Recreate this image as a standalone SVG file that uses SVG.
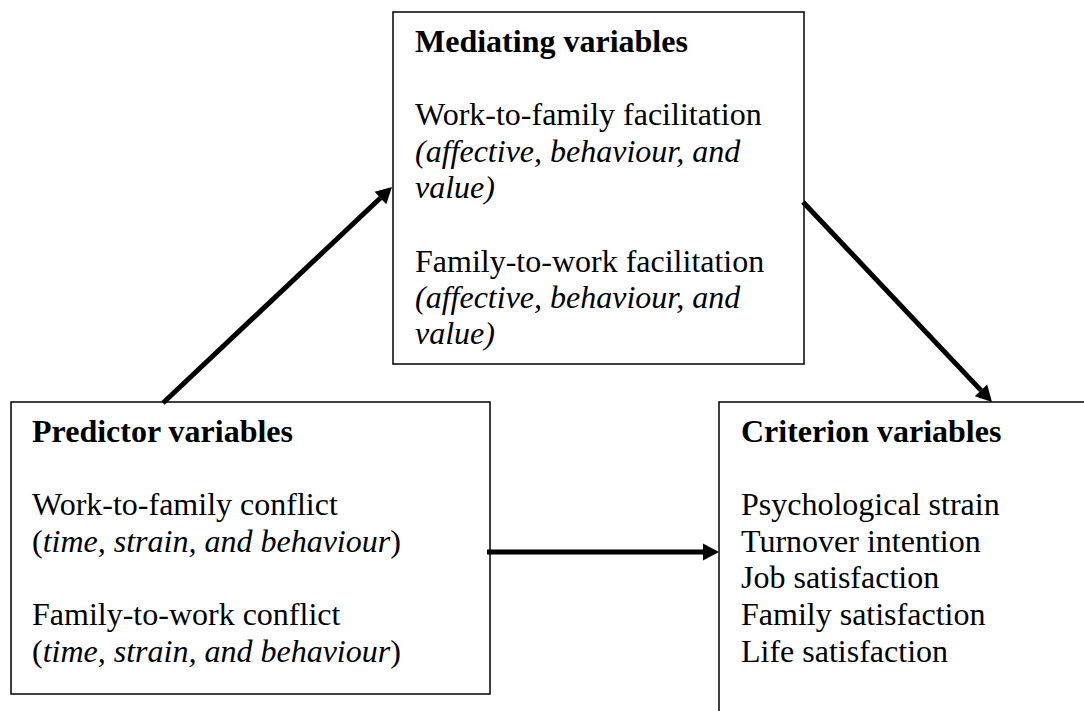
<svg xmlns="http://www.w3.org/2000/svg" width="1084" height="711" viewBox="0 0 1084 711">
  <style>
    .box { fill: #fff; stroke: #000; stroke-width: 1.5; }
    .conn { stroke: #000; stroke-width: 5; fill: none; marker-end: url(#head); }
  </style>
  <defs>
    <marker id="head" markerUnits="userSpaceOnUse" markerWidth="16" markerHeight="17" viewBox="0 -8.5 16 17" refX="0" refY="0" orient="auto" overflow="visible">
      <path d="M0,-8.5 L16,0 L0,8.5 Z" fill="#000"/>
    </marker>
  </defs>
  <rect width="1084" height="711" fill="#fff"/>

  <!-- middle box: mediating variables -->
  <g id="mediating" font-family="Times New Roman, Liberation Serif, serif" font-size="32">
    <rect class="box" x="393" y="12" width="411" height="352"/>
    <text font-weight="bold" x="415" y="52">Mediating variables</text>
    <text x="415" y="125">Work-to-family facilitation</text>
    <text font-style="italic" x="415" y="162">(affective, behaviour, and</text>
    <text font-style="italic" x="415" y="198">value)</text>
    <text x="415" y="272">Family-to-work facilitation</text>
    <text font-style="italic" x="415" y="308">(affective, behaviour, and</text>
    <text font-style="italic" x="415" y="344">value)</text>
  </g>

  <!-- left box: predictor variables -->
  <g id="predictor" font-family="Times New Roman, Liberation Serif, serif" font-size="32">
    <rect class="box" x="11" y="402" width="479" height="292"/>
    <text font-weight="bold" x="32" y="442">Predictor variables</text>
    <text x="32" y="515">Work-to-family conflict</text>
    <text x="32" y="552">(<tspan font-style="italic">time, strain, and behaviour</tspan>)</text>
    <text x="32" y="625">Family-to-work conflict</text>
    <text x="32" y="662">(<tspan font-style="italic">time, strain, and behaviour</tspan>)</text>
  </g>

  <!-- right box: criterion variables (runs past the right and bottom edges) -->
  <g id="criterion" font-family="Times New Roman, Liberation Serif, serif" font-size="32">
    <rect class="box" x="719" y="402" width="380" height="320"/>
    <text font-weight="bold" x="741" y="442">Criterion variables</text>
    <text x="741" y="515">Psychological strain</text>
    <text x="741" y="552">Turnover intention</text>
    <text x="741" y="588">Job satisfaction</text>
    <text x="741" y="625">Family satisfaction</text>
    <text x="741" y="662">Life satisfaction</text>
  </g>

  <g id="connectors">
    <line class="conn" x1="163" y1="403" x2="380.4" y2="198"/>
    <line class="conn" x1="803" y1="202" x2="981" y2="390.4"/>
    <line class="conn" x1="487" y1="552" x2="703" y2="552"/>
  </g>
</svg>
